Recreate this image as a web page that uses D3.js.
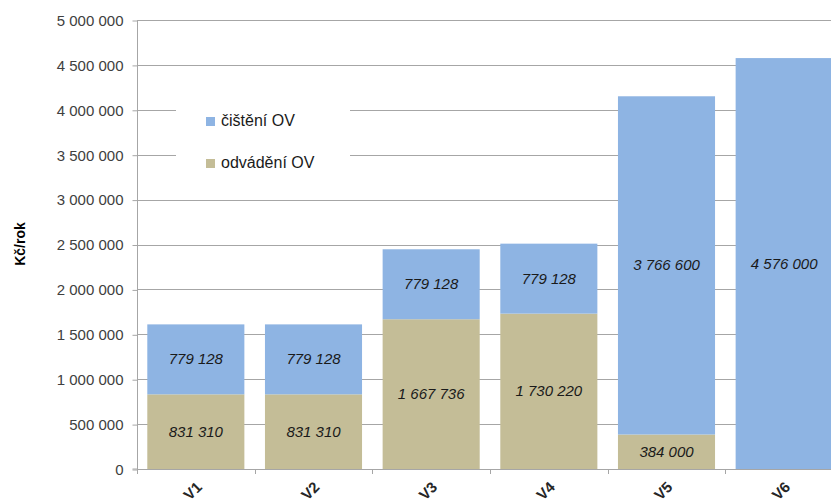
<!DOCTYPE html>
<html>
<head>
<meta charset="utf-8">
<script src="https://cdn.jsdelivr.net/npm/d3@7"></script>
<style>
  body { margin: 0; background: #fff; }
  svg { display: block; font-family: "Liberation Sans", Arial, sans-serif; }
</style>
</head>
<body>
<div id="chart"></div>
<script>
// Data
var categories = ["V1", "V2", "V3", "V4", "V5", "V6"];
var odvadeni = [831310, 831310, 1667736, 1730220, 384000, 0];
var cisteni = [779128, 779128, 779128, 779128, 3766600, 4576000];
var yTicks = [0, 500000, 1000000, 1500000, 2000000, 2500000, 3000000, 3500000, 4000000, 4500000, 5000000];
var seriesNames = ["čištění OV", "odvádění OV"];

var svgWidth = 831;
var svgHeight = 504;

// plot area runs a bit past the right edge, like the original
var margin = { top: 20, left: 137, bottom: 35 };
var plotRight = 843;
var plotBottom = 469;

var colorBlue = "#8eb4e3";
var colorTan = "#c4bd97";
var gridColor = "#a6a6a6";

var svg = d3.select("#chart")
  .append("svg")
  .attr("width", svgWidth)
  .attr("height", svgHeight);

var rows = categories.map(function(c, i) {
  return { cat: c, odvadeni: odvadeni[i], cisteni: cisteni[i] };
});

var stack = d3.stack().keys(["odvadeni", "cisteni"]);
var stacked = stack(rows);

var x = d3.scaleBand()
  .domain(categories)
  .range([margin.left, plotRight])
  .paddingInner(0.175)
  .paddingOuter(0.0875);

var y = d3.scaleLinear()
  .domain([0, 5000000])
  .range([plotBottom, margin.top]);

var fmtLabel = function(v) {
  return d3.format(",")(v).replace(/,/g, " ");
};

// gridlines
svg.append("g")
  .selectAll("line")
  .data(yTicks.slice(1))
  .enter()
  .append("line")
  .attr("x1", margin.left)
  .attr("x2", plotRight)
  .attr("y1", d => Math.round(y(d)) + 0.5)
  .attr("y2", d => Math.round(y(d)) + 0.5)
  .attr("stroke", gridColor)
  .attr("stroke-width", 1);

// y axis
var leftAxis = d3.axisLeft(y)
  .tickValues(yTicks)
  .tickSize(5)
  .tickPadding(9)
  .tickFormat(fmtLabel);

var yAxisG = svg.append("g")
  .attr("transform", `translate(${margin.left + 0.5}, 0.5)`)
  .call(leftAxis);
yAxisG.select(".domain").attr("stroke", gridColor).attr("d", `M-5,${y(0) - 0.5}H0V${margin.top - 0.5}`);
yAxisG.selectAll(".tick line").attr("stroke", gridColor);
yAxisG.selectAll(".tick text")
  .attr("font-size", "15px")
  .attr("fill", "#404040")
  .attr("font-family", "Liberation Sans, Arial, sans-serif");

// bars
var seriesColors = { odvadeni: colorTan, cisteni: colorBlue };
svg.append("g")
  .selectAll("g")
  .data(stacked)
  .enter()
  .append("g")
  .attr("fill", d => seriesColors[d.key])
  .selectAll("rect")
  .data(d => d.filter(p => p[1] - p[0] > 0))
  .enter()
  .append("rect")
  .attr("x", d => x(d.data.cat))
  .attr("y", d => y(d[1]))
  .attr("width", x.bandwidth())
  .attr("height", d => y(d[0]) - y(d[1]));

// bar value labels
svg.append("g")
  .selectAll("g")
  .data(stacked)
  .enter()
  .append("g")
  .selectAll("text")
  .data(d => d.filter(p => p[1] - p[0] > 0))
  .enter()
  .append("text")
  .attr("x", d => x(d.data.cat) + x.bandwidth() / 2)
  .attr("y", d => (y(d[0]) + y(d[1])) / 2 + 5)
  .attr("text-anchor", "middle")
  .attr("font-size", "15px")
  .attr("font-style", "italic")
  .attr("fill", "#1a1a1a")
  .text(d => fmtLabel(d[1] - d[0]));

// x axis line and ticks
var bottomAxis = d3.axisBottom(x).tickSize(0).tickFormat("");
var xAxisG = svg.append("g")
  .attr("transform", `translate(0, ${plotBottom + 0.5})`)
  .call(bottomAxis);
xAxisG.select(".domain").attr("stroke", gridColor).attr("d", `M${margin.left},0H${plotRight}`);

var step = x.step();
svg.append("g")
  .selectAll("line")
  .data(d3.range(categories.length + 1))
  .enter()
  .append("line")
  .attr("x1", i => Math.round(margin.left + i * step) + 0.5)
  .attr("x2", i => Math.round(margin.left + i * step) + 0.5)
  .attr("y1", plotBottom)
  .attr("y2", plotBottom + 5)
  .attr("stroke", gridColor);

// category labels, rotated, kept just inside the bottom edge
svg.append("g")
  .selectAll("text")
  .data(categories)
  .enter()
  .append("text")
  .attr("transform", d => `translate(${x(d) + x.bandwidth() / 2 + 7}, ${plotBottom + 19}) rotate(-45)`)
  .attr("text-anchor", "end")
  .attr("font-size", "15px")
  .attr("font-weight", "bold")
  .attr("fill", "#262626")
  .text(d => d);

// y axis title
svg.append("text")
  .attr("transform", "translate(25, 244) rotate(-90)")
  .attr("text-anchor", "middle")
  .attr("font-size", "14px")
  .attr("font-weight", "bold")
  .attr("fill", "#000")
  .text("Kč/rok");

// legend (white box hides gridlines behind it)
var legend = svg.append("g");
legend.append("rect")
  .attr("x", 176)
  .attr("y", 85)
  .attr("width", 174)
  .attr("height", 100)
  .attr("fill", "#fff");

var legendColors = [colorBlue, colorTan];
var legendY = [121, 163];
seriesNames.forEach(function(name, i) {
  legend.append("rect")
    .attr("x", 206)
    .attr("y", legendY[i] - 4)
    .attr("width", 9)
    .attr("height", 9)
    .attr("fill", legendColors[i]);
  legend.append("text")
    .attr("x", 221)
    .attr("y", legendY[i] + 5)
    .attr("font-size", "16px")
    .attr("fill", "#1a1a1a")
    .text(name);
});
</script>
</body>
</html>
